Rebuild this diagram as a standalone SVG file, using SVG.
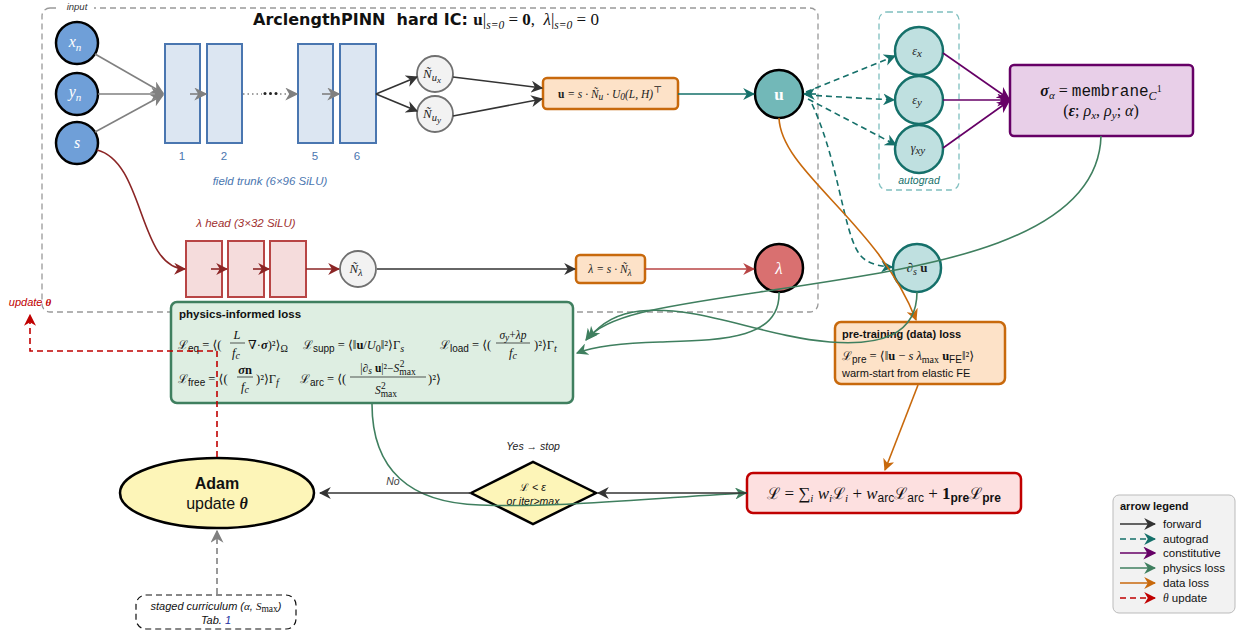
<svg xmlns="http://www.w3.org/2000/svg" width="1247" height="635" viewBox="0 0 1247 635">
<style>
.sans{font-family:"Liberation Sans","DejaVu Sans",sans-serif}
.m{font-family:"Liberation Serif","DejaVu Serif",serif;font-style:italic}
.r{font-family:"Liberation Serif","DejaVu Serif",serif}
.cal{font-family:"DejaVu Serif",serif;font-style:normal}
.b{font-weight:bold}
.it{font-style:italic}
.trunk{fill:#dce6f2;stroke:#4a76b0;stroke-width:2}
.head{fill:#f5dcdc;stroke:#b84545;stroke-width:2}
.inp{fill:#6f9fd8;stroke:#000;stroke-width:2.5}
.nt{fill:#f2f2f2;stroke:#707070;stroke-width:1.8}
.eps{fill:#bfe0e0;stroke:#15706a;stroke-width:2.5}
.ob{fill:#fde2c8;stroke:#c8690c;stroke-width:2.5}
.c{fill:none;stroke-width:1.6}
.gray{stroke:#808080}
.dk{stroke:#333}
.teal{stroke:#15706a}
.pur{stroke:#660066}
.grn{stroke:#3f7f5f}
.org{stroke:#c8690c}
.red{stroke:#c00000}
.dred{stroke:#8b2525}
.lred{stroke:#b84545}
.dash{stroke-dasharray:6 4}
</style>
<defs>
<marker id="mGray" viewBox="0 0 10 10" refX="9" refY="5" markerWidth="13" markerHeight="13" orient="auto" markerUnits="userSpaceOnUse"><path d="M0,0 L10,5 L0,10 L3,5 z" fill="#808080"/></marker>
<marker id="mDk" viewBox="0 0 10 10" refX="9" refY="5" markerWidth="12" markerHeight="12" orient="auto" markerUnits="userSpaceOnUse"><path d="M0,0 L10,5 L0,10 L3,5 z" fill="#333"/></marker>
<marker id="mTeal" viewBox="0 0 10 10" refX="9" refY="5" markerWidth="12" markerHeight="12" orient="auto" markerUnits="userSpaceOnUse"><path d="M0,0 L10,5 L0,10 L3,5 z" fill="#15706a"/></marker>
<marker id="mPur" viewBox="0 0 10 10" refX="9" refY="5" markerWidth="13" markerHeight="13" orient="auto" markerUnits="userSpaceOnUse"><path d="M0,0 L10,5 L0,10 L3,5 z" fill="#660066"/></marker>
<marker id="mGrn" viewBox="0 0 10 10" refX="9" refY="5" markerWidth="12" markerHeight="12" orient="auto" markerUnits="userSpaceOnUse"><path d="M0,0 L10,5 L0,10 L3,5 z" fill="#3f7f5f"/></marker>
<marker id="mOrg" viewBox="0 0 10 10" refX="9" refY="5" markerWidth="12" markerHeight="12" orient="auto" markerUnits="userSpaceOnUse"><path d="M0,0 L10,5 L0,10 L3,5 z" fill="#c8690c"/></marker>
<marker id="mRed" viewBox="0 0 10 10" refX="9" refY="5" markerWidth="12" markerHeight="12" orient="auto" markerUnits="userSpaceOnUse"><path d="M0,0 L10,5 L0,10 L3,5 z" fill="#c00000"/></marker>
<marker id="mDred" viewBox="0 0 10 10" refX="9" refY="5" markerWidth="12" markerHeight="12" orient="auto" markerUnits="userSpaceOnUse"><path d="M0,0 L10,5 L0,10 L3,5 z" fill="#8b2525"/></marker>
<marker id="mLred" viewBox="0 0 10 10" refX="9" refY="5" markerWidth="12" markerHeight="12" orient="auto" markerUnits="userSpaceOnUse"><path d="M0,0 L10,5 L0,10 L3,5 z" fill="#b84545"/></marker>
</defs>
<rect width="1247" height="635" fill="#fff"/>

<g id="outer">
<rect x="42" y="8" width="776" height="304" rx="8" fill="none" stroke="#999" stroke-width="1.3" stroke-dasharray="6 4"/>
<rect x="60" y="1" width="34" height="12" fill="#fff"/>
<text x="77" y="10" class="sans it" font-size="9.5" text-anchor="middle" fill="#333">input</text>
<text x="253" y="25" font-family="DejaVu Sans,sans-serif" font-weight="bold" font-size="16" fill="#111">ArclengthPINN&#160; hard IC: <tspan class="r b" font-size="17">u</tspan><tspan class="r" font-size="17" font-weight="normal">|</tspan><tspan class="m" font-size="11.5" font-weight="normal" dy="4">s=0</tspan><tspan class="r" font-size="17" dy="-4" font-weight="normal"> = </tspan><tspan class="r b" font-size="17">0</tspan><tspan class="r" font-size="17" font-weight="normal">,&#160; </tspan><tspan class="m" font-size="17" font-weight="normal">λ</tspan><tspan class="r" font-size="17" font-weight="normal">|</tspan><tspan class="m" font-size="11.5" font-weight="normal" dy="4">s=0</tspan><tspan class="r" font-size="17" dy="-4" font-weight="normal"> = 0</tspan></text>
</g>

<g id="input-xn"><circle cx="77" cy="43" r="21" class="inp"/><text x="75" y="47" class="m" font-size="16" fill="#fff" text-anchor="middle">x<tspan font-size="11" dy="4">n</tspan></text></g>
<g id="input-yn"><circle cx="77" cy="94" r="21" class="inp"/><text x="75" y="97" class="m" font-size="16" fill="#fff" text-anchor="middle">y<tspan font-size="11" dy="4">n</tspan></text></g>
<g id="input-s"><circle cx="77" cy="143" r="21" class="inp"/><text x="77" y="148" class="m" font-size="16" fill="#fff" text-anchor="middle">s</text></g>

<g id="trunk">
<rect x="165" y="44" width="35" height="99" class="trunk"/>
<rect x="207" y="44" width="35" height="99" class="trunk"/>
<rect x="298" y="44" width="35" height="99" class="trunk"/>
<rect x="340" y="44" width="36" height="99" class="trunk"/>
<g class="sans" font-size="11.5" fill="#4a76b0" text-anchor="middle">
<text x="182" y="160">1</text><text x="224" y="160">2</text><text x="315" y="160">5</text><text x="357" y="160">6</text>
</g>
<text x="270" y="185" class="sans it" font-size="11.5" fill="#4a76b0" text-anchor="middle">field trunk (6×96 SiLU)</text>
<circle cx="265" cy="93.5" r="1.5" fill="#222"/><circle cx="270.5" cy="93.5" r="1.5" fill="#222"/><circle cx="276" cy="93.5" r="1.5" fill="#222"/>
</g>

<g id="Nux"><circle cx="435" cy="74" r="18" class="nt"/><text x="432" y="78" class="m" font-size="13" text-anchor="middle" fill="#222">Ñ<tspan font-size="10.5" dy="3">u</tspan><tspan font-size="9" dy="2">x</tspan></text></g>
<g id="Nuy"><circle cx="435" cy="114" r="18" class="nt"/><text x="432" y="118" class="m" font-size="13" text-anchor="middle" fill="#222">Ñ<tspan font-size="10.5" dy="3">u</tspan><tspan font-size="9" dy="2">y</tspan></text></g>

<g id="ubox"><rect x="543" y="78" width="135" height="31" rx="4" class="ob"/><text x="610" y="98" class="m" font-size="11.5" text-anchor="middle" fill="#222"><tspan class="r b" font-style="normal">u</tspan> = s · Ñ<tspan font-size="9.5" dy="2">u</tspan><tspan dy="-2"> · U</tspan><tspan font-size="9.5" dy="2">0</tspan><tspan dy="-2">(L, H)</tspan><tspan font-size="9.5" dy="-5" font-style="normal">⊤</tspan></text></g>

<g id="u-node"><circle cx="779" cy="94" r="24" fill="#72b8b8" stroke="#000" stroke-width="2.5"/><text x="779" y="100" class="r b" font-size="17" fill="#fff" text-anchor="middle">u</text></g>

<g id="autograd">
<rect x="879" y="12" width="80" height="178" rx="8" fill="none" stroke="#7fbfbf" stroke-width="1.3" stroke-dasharray="6 4"/>
<circle cx="919" cy="51" r="24" class="eps"/><text x="917" y="55" class="m" font-size="12" text-anchor="middle" fill="#222">ε<tspan font-size="11" dy="2">x</tspan></text>
<circle cx="919" cy="100" r="24" class="eps"/><text x="917" y="104" class="m" font-size="12" text-anchor="middle" fill="#222">ε<tspan font-size="11" dy="2">y</tspan></text>
<circle cx="919" cy="149" r="24" class="eps"/><text x="918" y="152" class="m" font-size="12" text-anchor="middle" fill="#222">γ<tspan font-size="11" dy="2">xy</tspan></text>
<text x="919" y="184" class="sans it" font-size="10.5" text-anchor="middle" fill="#15706a">autograd</text>
</g>

<g id="sigma"><rect x="1010" y="65" width="183" height="71" rx="4" fill="#e8cfe8" stroke="#660066" stroke-width="2.5"/>
<text x="1101" y="96" class="r" font-size="16" text-anchor="middle" fill="#111"><tspan class="b it">σ</tspan><tspan class="m" font-size="11" dy="3">α</tspan><tspan dy="-3"> = </tspan><tspan font-family="Liberation Mono,monospace">membrane</tspan><tspan class="m" font-size="12" dy="4">C</tspan><tspan font-size="10" dy="-8">1</tspan></text>
<text x="1101" y="116" class="r" font-size="16" text-anchor="middle" fill="#111">(<tspan class="b it">ε</tspan>; <tspan class="m">ρ</tspan><tspan class="m" font-size="11" dy="3">x</tspan><tspan dy="-3">, </tspan><tspan class="m">ρ</tspan><tspan class="m" font-size="11" dy="3">y</tspan><tspan dy="-3">; </tspan><tspan class="m">α</tspan>)</text>
</g>

<g id="lambda-head">
<text x="246" y="227" class="sans it" font-size="11.5" text-anchor="middle" fill="#a03030">λ head (3×32 SiLU)</text>
<rect x="186" y="241" width="36" height="56" class="head"/>
<rect x="228" y="241" width="36" height="56" class="head"/>
<rect x="270" y="241" width="36" height="56" class="head"/>
</g>

<g id="Nlambda"><circle cx="358" cy="269" r="18" class="nt"/><text x="356" y="273" class="m" font-size="13" text-anchor="middle" fill="#222">Ñ<tspan font-size="10.5" dy="3">λ</tspan></text></g>

<g id="lambda-box"><rect x="576" y="255" width="69" height="28" rx="4" class="ob"/><text x="610" y="273" class="m" font-size="11.5" text-anchor="middle" fill="#222">λ = s · Ñ<tspan font-size="9.5" dy="3">λ</tspan></text></g>

<g id="lambda-node"><circle cx="779" cy="268" r="24" fill="#d97070" stroke="#000" stroke-width="2.5"/><text x="779" y="274" class="m" font-size="17" fill="#fff" text-anchor="middle">λ</text></g>

<g id="dsu-node"><circle cx="917" cy="268" r="24" class="eps"/><text x="917" y="272" class="m" font-size="13" text-anchor="middle" fill="#222">∂<tspan font-size="10" dy="3">s</tspan><tspan dy="-3" class="r b" font-style="normal"> u</tspan></text></g>

<g id="physics-loss">
<rect x="171" y="302" width="402" height="101" rx="6" fill="#deeee2" stroke="#3f7f5f" stroke-width="2.5"/>
<text x="179" y="318" class="sans b" font-size="11.5" fill="#111">physics-informed loss</text>
<g fill="#111" font-size="12.5">
<text x="178" y="349" class="cal" font-size="12">ℒ<tspan class="sans" font-size="10" dy="3">eq</tspan><tspan class="r" dy="-3" font-size="12.5"> = ⟨(</tspan></text>
<text x="237" y="339" class="m" text-anchor="middle">L</text><path d="M230 343 H245" stroke="#111" stroke-width="0.7"/><text x="236" y="357" class="m" text-anchor="middle">f<tspan font-size="10" dy="2">c</tspan></text>
<text x="248" y="349" class="r">∇·<tspan class="b it">σ</tspan>)²⟩<tspan font-size="10" dy="3">Ω</tspan></text>
<text x="303" y="349" class="cal" font-size="12">ℒ<tspan class="sans" font-size="10" dy="3">supp</tspan><tspan class="r" dy="-3" font-size="12.5"> = ⟨‖<tspan class="b">u</tspan>/<tspan class="m">U</tspan></tspan><tspan class="r" font-size="10" dy="3">0</tspan><tspan class="r" dy="-3" font-size="12.5">‖²⟩Γ</tspan><tspan class="m" font-size="10" dy="3">s</tspan></text>
<text x="440" y="349" class="cal" font-size="12">ℒ<tspan class="sans" font-size="10" dy="3">load</tspan><tspan class="r" dy="-3" font-size="12.5"> = ⟨(</tspan></text>
<text x="513" y="339" class="m" text-anchor="middle" font-size="11.5">σ<tspan font-size="9.5" dy="2">y</tspan><tspan dy="-2" class="r" font-style="normal">+</tspan>λp</text><path d="M496 343 H530" stroke="#111" stroke-width="0.7"/><text x="513" y="357" class="m" text-anchor="middle">f<tspan font-size="10" dy="2">c</tspan></text>
<text x="534" y="349" class="r">)²⟩Γ<tspan class="m" font-size="10" dy="3">t</tspan></text>

<text x="178" y="383" class="cal" font-size="12">ℒ<tspan class="sans" font-size="10" dy="3">free</tspan><tspan class="r" dy="-3" font-size="12.5"> = ⟨(</tspan></text>
<text x="245" y="374" class="r b" text-anchor="middle"><tspan class="it">σ</tspan>n</text><path d="M237 377 H253" stroke="#111" stroke-width="0.7"/><text x="245" y="391" class="m" text-anchor="middle">f<tspan font-size="10" dy="2">c</tspan></text>
<text x="256" y="383" class="r">)²⟩Γ<tspan class="m" font-size="10" dy="3">f</tspan></text>
<text x="300" y="383" class="cal" font-size="12">ℒ<tspan class="sans" font-size="10" dy="3">arc</tspan><tspan class="r" dy="-3" font-size="12.5"> = ⟨(</tspan></text>
<text x="388" y="372" class="r" text-anchor="middle" font-size="11.5">|∂<tspan class="m" font-size="9.5" dy="2">s</tspan><tspan dy="-2" class="b"> u</tspan>|²−<tspan class="m">S</tspan><tspan font-size="9.5" dy="3">max</tspan><tspan font-size="9.5" dy="-8" dx="-16">2</tspan></text><path d="M350 377 H426" stroke="#111" stroke-width="0.7"/>
<text x="386" y="394" class="m" text-anchor="middle" font-size="11.5">S<tspan class="r" font-style="normal" font-size="9.5" dy="3">max</tspan><tspan class="r" font-style="normal" font-size="9.5" dy="-8" dx="-16">2</tspan></text>
<text x="428" y="383" class="r">)²⟩</text>
</g>
</g>

<g id="pretrain">
<rect x="835" y="322" width="170" height="62" rx="6" class="ob"/>
<text x="842" y="338" class="sans b" font-size="11" fill="#111">pre-training (data) loss</text>
<text x="842" y="360" class="cal" font-size="12" fill="#111">ℒ<tspan class="sans" font-size="10" dy="3">pre</tspan><tspan class="r" dy="-3" font-size="12.5"> = ⟨‖<tspan class="b">u</tspan> − </tspan><tspan class="m" font-size="12.5">s λ</tspan><tspan class="r" font-size="10" dy="3">max</tspan><tspan class="r b" dy="-3" font-size="12.5"> u</tspan><tspan class="sans" font-size="10" dy="3">FE</tspan><tspan class="r" dy="-3" font-size="12.5">‖²⟩</tspan></text>
<text x="842" y="377" class="sans" font-size="11" fill="#111">warm-start from elastic FE</text>
</g>

<g id="total-loss">
<rect x="747" y="473" width="274" height="40" rx="6" fill="#fde0e0" stroke="#c00000" stroke-width="2.5"/>
<text x="884" y="499" class="r" font-size="17" text-anchor="middle" fill="#111"><tspan class="cal" font-size="16">ℒ</tspan> = ∑<tspan class="m" font-size="11" dy="3">i</tspan><tspan dy="-3"> </tspan><tspan class="m">w</tspan><tspan class="m" font-size="11" dy="3">i</tspan><tspan class="cal" font-size="16" dy="-3">ℒ</tspan><tspan class="m" font-size="11" dy="3">i</tspan><tspan dy="-3"> + </tspan><tspan class="m">w</tspan><tspan class="sans" font-size="12" dy="3">arc</tspan><tspan class="cal" font-size="16" dy="-3">ℒ</tspan><tspan class="sans" font-size="12" dy="3">arc</tspan><tspan dy="-3"> + </tspan><tspan class="b">1</tspan><tspan class="sans b" font-size="12" dy="3">pre</tspan><tspan class="cal" font-size="16" dy="-3">ℒ</tspan><tspan class="sans b" font-size="12" dy="3">pre</tspan></text>
</g>

<g id="decision">
<path d="M471 493 L533 462 L596 493 L533 524 Z" fill="#fdf5b8" stroke="#000" stroke-width="2.5"/>
<text x="533" y="491" class="sans it" font-size="10.5" text-anchor="middle" fill="#111"><tspan class="cal">ℒ</tspan> &lt; ε</text>
<text x="533" y="505" class="sans it" font-size="10.5" text-anchor="middle" fill="#111">or iter&gt;max</text>
<text x="533" y="450" class="sans it" font-size="10.5" text-anchor="middle" fill="#222">Yes → stop</text>
<text x="393" y="485" class="sans it" font-size="10.5" text-anchor="middle" fill="#444">No</text>
</g>

<g id="adam">
<ellipse cx="217" cy="493" rx="97" ry="35" fill="#fdf5b8" stroke="#000" stroke-width="2.5"/>
<text x="217" y="489" class="sans b" font-size="16" text-anchor="middle" fill="#111">Adam</text>
<text x="217" y="509" class="sans" font-size="16" text-anchor="middle" fill="#111">update <tspan class="m b">θ</tspan></text>
</g>

<g id="curriculum">
<rect x="136" y="595" width="160" height="34" rx="10" fill="#fff" stroke="#111" stroke-width="1.2" stroke-dasharray="6 4"/>
<text x="216" y="610" class="sans it" font-size="11" text-anchor="middle" fill="#111">staged curriculum (<tspan class="m">α</tspan>, <tspan class="m">S</tspan><tspan class="r" font-style="normal" font-size="9.5" dy="2">max</tspan><tspan dy="-2">)</tspan></text>
<text x="216" y="624" class="sans it" font-size="11" text-anchor="middle" fill="#111">Tab. <tspan fill="#2030a0">1</tspan></text>
</g>

<g id="legend">
<rect x="1113" y="495" width="122" height="118" rx="6" fill="#f2f2f2" stroke="#bbb" stroke-width="1"/>
<text x="1120" y="510" class="sans b" font-size="11" fill="#111">arrow legend</text>
<path d="M1120 524 H1155" class="c dk" marker-end="url(#mDk)"/>
<path d="M1120 539 H1155" class="c teal dash" marker-end="url(#mTeal)"/>
<path d="M1120 553 H1155" class="c pur" marker-end="url(#mPur)"/>
<path d="M1120 568 H1155" class="c grn" marker-end="url(#mGrn)"/>
<path d="M1120 583 H1155" class="c org" marker-end="url(#mOrg)"/>
<path d="M1120 598 H1155" class="c red dash" marker-end="url(#mRed)"/>
<g class="sans" font-size="11.5" fill="#111">
<text x="1163" y="528">forward</text><text x="1163" y="543">autograd</text><text x="1163" y="557">constitutive</text><text x="1163" y="572">physics loss</text><text x="1163" y="587">data loss</text><text x="1163" y="602"><tspan class="m">θ</tspan> update</text>
</g>
</g>

<g id="connectors">
<path d="M95 54 L163 93" class="c gray" marker-end="url(#mGray)"/>
<path d="M98 94 L163 94" class="c gray" marker-end="url(#mGray)"/>
<path d="M95 132 L163 95" class="c gray" marker-end="url(#mGray)"/>
<path d="M190 94 L206 94" class="c gray" marker-end="url(#mGray)"/>
<path d="M243 94 L262 94 M280 94 L297 94" class="c gray" stroke-dasharray="1.5 3" marker-end="url(#mGray)"/>
<path d="M322 94 L339 94" class="c gray" marker-end="url(#mGray)"/>
<path d="M376 94 L417 77" class="c dk" marker-end="url(#mDk)"/>
<path d="M376 94 L417 111" class="c dk" marker-end="url(#mDk)"/>
<path d="M453 77 L542 88" class="c dk" marker-end="url(#mDk)"/>
<path d="M453 116 L542 99" class="c dk" marker-end="url(#mDk)"/>
<path d="M678 94 L754 94" class="c teal" marker-end="url(#mTeal)"/>
<path d="M806 92 L895 56" class="c teal dash" marker-end="url(#mTeal)"/>
<path d="M806 95 L894 100" class="c teal dash" marker-end="url(#mTeal)"/>
<path d="M808 99 L896 145" class="c teal dash" marker-end="url(#mTeal)"/>
<path d="M816 94 L804 94" class="c teal" marker-end="url(#mTeal)"/>
<path d="M812 104 C838 160 843 228 858 252 Q866 266 892 267" class="c teal dash" marker-end="url(#mTeal)"/>
<path d="M943 53 L1009 99" class="c pur" marker-end="url(#mPur)"/>
<path d="M943 100 L1009 100" class="c pur" marker-end="url(#mPur)"/>
<path d="M943 148 L1009 101" class="c pur" marker-end="url(#mPur)"/>
<path d="M97 150 C145 162 138 268 185 269" class="c dred" marker-end="url(#mDred)"/>
<path d="M211 269 L227 269" class="c dred" marker-end="url(#mDred)"/>
<path d="M253 269 L269 269" class="c dred" marker-end="url(#mDred)"/>
<path d="M306 269 L339 269" class="c dred" marker-end="url(#mDred)"/>
<path d="M377 269 L575 269" class="c dk" marker-end="url(#mDk)"/>
<path d="M645 269 L754 269" class="c lred" marker-end="url(#mLred)"/>
<path d="M779 118 C781 172 878 222 916 320" class="c org" marker-end="url(#mOrg)"/>
<path d="M918 385 L885 470" class="c org" marker-end="url(#mOrg)"/>
<path d="M1101 136 C1098 250 900 270 760 292 C660 307 605 315 586 340" class="c grn" marker-end="url(#mGrn)"/>
<path d="M917 292 C917 335 880 346 830 342 C760 336 700 305 640 311 C612 314 597 328 589 338" class="c grn" marker-end="url(#mGrn)"/>
<path d="M779 292 C781 340 720 340 660 342 C620 343 595 346 577 353" class="c grn" marker-end="url(#mGrn)"/>
<path d="M372 404 C372 470 410 503 480 505 C560 508 650 498 746 493" class="c grn" marker-end="url(#mGrn)"/>
<path d="M747 493 L598 493" class="c dk" marker-end="url(#mDk)"/>
<path d="M471 493 L320 493" class="c dk" marker-end="url(#mDk)"/>
<path d="M217 457 L217 351 L30 351 L30 315" class="c red" stroke-width="2" stroke-dasharray="6 4" marker-end="url(#mRed)"/>
<path d="M217 594 L217 531" class="c gray" stroke-width="1.2" stroke-dasharray="6 4" marker-end="url(#mGray)"/>
<text x="30" y="306" class="sans it" font-size="11" text-anchor="middle" fill="#c00000">update <tspan class="m b">θ</tspan></text>
</g>
</svg>
